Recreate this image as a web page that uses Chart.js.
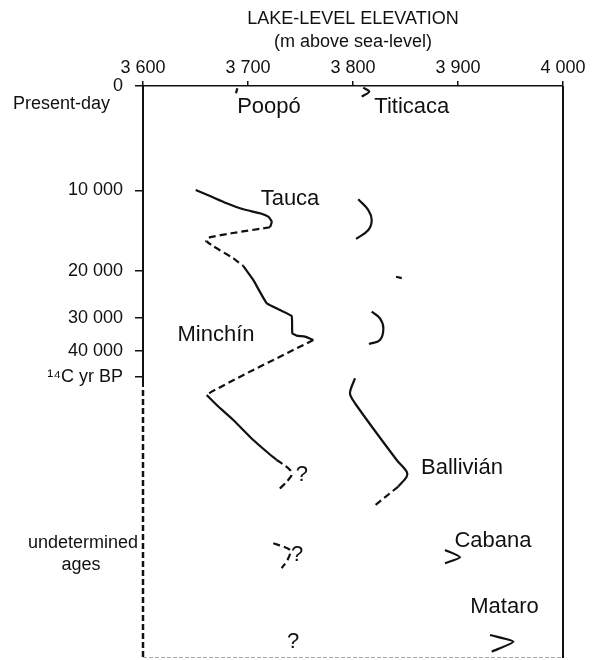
<!DOCTYPE html>
<html>
<head>
<meta charset="utf-8">
<title>Lake-level elevation</title>
<script src="https://cdn.jsdelivr.net/npm/chart.js@4.4.1/dist/chart.umd.min.js"></script>
<style>
  body { margin: 0; background: #fff; }
  canvas { display: block; }
</style>
</head>
<body>
<canvas id="chart" width="596" height="660"></canvas>
<script>
// vertical axis: profile depth, 1 unit = present-day to 10 000 yr, log in ages above that,
// then an undated stretch down to profileBottom
const tickAges = [0, 10000, 20000, 30000, 40000, 50000]
const tickLabels = ['0', '10 000', '20 000', '30 000', '40 000', '¹⁴C yr BP']
const profileBottom = 5.474

// [elevation m, depth] pairs
const poopoPresent = [[3689.8, 0.022], [3688.6, 0.070]]
const poopoTauca = [[3650.2, 0.995], [3663.8, 1.053], [3679.7, 1.122], [3695.5, 1.180], [3711.4, 1.218], [3719.3, 1.251], [3722.6, 1.299], [3721.0, 1.352]]
const poopoLink1 = [[3721.0, 1.352], [3685.7, 1.407], [3662.2, 1.452], [3660.0, 1.480], [3666.7, 1.531], [3686.0, 1.649], [3695.5, 1.722]]
const poopoMinchin = [[3695.5, 1.722], [3705.0, 1.856], [3717.8, 2.079], [3730.5, 2.144], [3741.6, 2.201], [3742.2, 2.367], [3746.4, 2.389], [3754.3, 2.399], [3762.2, 2.431]]
const poopoLink2 = [[3762.2, 2.431], [3736.9, 2.558], [3698.8, 2.749], [3665.4, 2.925], [3660.7, 2.957]]
const poopoBallivian = [[3660.7, 2.957], [3670.2, 3.053], [3686.0, 3.196], [3705.0, 3.388], [3717.8, 3.500], [3727.3, 3.579]]
const poopoBallivianQ = [[3727.3, 3.579], [3732.1, 3.611], [3740.0, 3.675], [3741.6, 3.722], [3736.9, 3.786], [3728.9, 3.866]]
const poopoCabanaQ = [[3724.1, 4.376], [3740.0, 4.440], [3738.4, 4.520], [3732.1, 4.615]]

const titiPresent = [[3809.8, 0.016], [3815.5, 0.054], [3808.3, 0.102]]
const titiTauca = [[3805.0, 1.084], [3814.6, 1.187], [3817.8, 1.282], [3814.6, 1.378], [3802.9, 1.464]]
const titiMark = [[3841.0, 1.825], [3846.4, 1.838]]
const titiMinchin = [[3817.8, 2.160], [3825.7, 2.223], [3828.9, 2.319], [3825.7, 2.431], [3815.2, 2.469]]
const titiBallivian = [[3801.9, 2.797], [3797.1, 2.941], [3801.9, 3.036], [3841.6, 3.579], [3851.1, 3.691], [3851.1, 3.739], [3843.1, 3.834]]
const titiBallivianQ = [[3843.1, 3.834], [3819.3, 4.026]]
const titiCabana = [[3887.6, 4.440], [3901.9, 4.510], [3887.6, 4.567]]
const titiMataro = [[3930.5, 5.254], [3952.7, 5.318], [3932.1, 5.413]]

const labelText = ['Poopó', 'Titicaca', 'Tauca', 'Minchín', 'Ballivián', 'Cabana', 'Mataro', '?', '?', '?']
const labelElev = [3720, 3856, 3740, 3669.5, 3903.8, 3933.3, 3944.3, 3751.4, 3746.7, 3742.9]
const labelDepth = [0.198, 0.201, 1.081, 2.383, 3.656, 4.354, 4.986, 3.722, 4.488, 5.321]

const ink = '#111'
const fontFamily = '"Liberation Sans", Arial, Helvetica, sans-serif'

function agePos(age) {
    if (age <= 10000) return age / 10000
    return 1 + 2.555 * Math.log10(age / 10000)
}

function seg(points, dashed, tension) {
    return {
        data: points.map(p => ({x: p[0], y: p[1]})),
        showLine: true,
        borderColor: ink,
        borderWidth: 2.2,
        borderDash: dashed ? [7, 4] : [],
        pointRadius: 0,
        tension: tension == null ? 0.2 : tension,
        fill: false
    }
}

const frame = {
    id: 'frame',
    afterDatasetsDraw(chart) {
        const {ctx, chartArea: a, scales: {x, y}} = chart
        ctx.save()
        ctx.strokeStyle = ink
        ctx.lineCap = 'butt'

        // right side
        ctx.lineWidth = 2
        ctx.beginPath()
        ctx.moveTo(a.right, a.top)
        ctx.lineTo(a.right, a.bottom)
        ctx.stroke()

        // left axis: solid for dated part, dashed for undetermined ages
        const split = y.getPixelForValue(agePos(50000)) + 10
        ctx.beginPath()
        ctx.moveTo(a.left, a.top)
        ctx.lineTo(a.left, split)
        ctx.stroke()
        ctx.lineWidth = 2.5
        ctx.setLineDash([6, 3])
        ctx.beginPath()
        ctx.moveTo(a.left, split + 3)
        ctx.lineTo(a.left, a.bottom)
        ctx.stroke()

        // bottom edge, faint
        ctx.strokeStyle = '#aaa'
        ctx.lineWidth = 1
        ctx.setLineDash([4, 2])
        ctx.beginPath()
        ctx.moveTo(a.left, a.bottom - 0.5)
        ctx.lineTo(a.right, a.bottom - 0.5)
        ctx.stroke()
        ctx.setLineDash([])

        // curve names
        ctx.fillStyle = ink
        ctx.textBaseline = 'middle'
        ctx.textAlign = 'center'
        labelText.forEach((t, i) => {
            ctx.font = '22px ' + fontFamily
            ctx.fillText(t, x.getPixelForValue(labelElev[i]), y.getPixelForValue(labelDepth[i]))
        })

        // side notes of the age axis
        ctx.font = '18px ' + fontFamily
        ctx.textAlign = 'right'
        ctx.fillText('Present-day', a.left - 33, y.getPixelForValue(0.172))
        ctx.fillText('undetermined', a.left - 5, y.getPixelForValue(4.37))
        ctx.textAlign = 'center'
        ctx.fillText('ages', a.left - 62, y.getPixelForValue(4.584))
        ctx.restore()
    }
}

Chart.defaults.font.family = fontFamily
Chart.defaults.color = ink

let chart = new Chart(document.getElementById('chart'), {
    type: 'scatter',
    data: {
        datasets: [
            seg(poopoPresent, false, 0),
            seg(poopoTauca, false),
            seg(poopoLink1, true),
            seg(poopoMinchin, false, 0.1),
            seg(poopoLink2, true, 0),
            seg(poopoBallivian, false),
            seg(poopoBallivianQ, true, 0.3),
            seg(poopoCabanaQ, true, 0.3),
            seg(titiPresent, false, 0.3),
            seg(titiTauca, false, 0.4),
            seg(titiMark, false, 0),
            seg(titiMinchin, false, 0.4),
            seg(titiBallivian, false, 0.3),
            seg(titiBallivianQ, true, 0),
            seg(titiCabana, false, 0.2),
            seg(titiMataro, false, 0.2)
        ]
    },
    options: {
        responsive: false,
        animation: false,
        devicePixelRatio: 1,
        layout: {padding: {left: 0, right: 33, top: 0, bottom: 2}},
        plugins: {legend: {display: false}, tooltip: {enabled: false}},
        scales: {
            x: {
                type: 'linear',
                position: 'top',
                min: 3600,
                max: 4000,
                afterFit: scale => { scale.height = 86 },
                ticks: {
                    stepSize: 100,
                    padding: 2,
                    maxRotation: 0,
                    font: {size: 18},
                    callback: v => String(v).replace(/(\d)(\d{3})$/, '$1 $2')
                },
                grid: {drawOnChartArea: false, tickLength: 5, color: ink, lineWidth: 1.5},
                border: {display: true, color: ink, width: 1.5},
                title: {
                    display: true,
                    text: ['LAKE-LEVEL ELEVATION', '(m above sea-level)'],
                    font: {size: 18, lineHeight: 1.25},
                    padding: {top: 8, bottom: 0}
                }
            },
            y: {
                type: 'linear',
                position: 'left',
                reverse: true,
                min: 0,
                max: profileBottom,
                afterFit: scale => {
                    scale.width = 143
                    scale.paddingTop = 0
                    scale.paddingBottom = 0
                },
                afterBuildTicks: scale => {
                    scale.ticks = tickAges.map(a => ({value: agePos(a)}))
                },
                ticks: {
                    autoSkip: false,
                    padding: 12,
                    font: {size: 18},
                    callback: (v, i) => tickLabels[i]
                },
                grid: {drawOnChartArea: false, tickLength: 8, color: ink, lineWidth: 1.5},
                border: {display: false}
            }
        }
    },
    plugins: [frame]
})
</script>
</body>
</html>
